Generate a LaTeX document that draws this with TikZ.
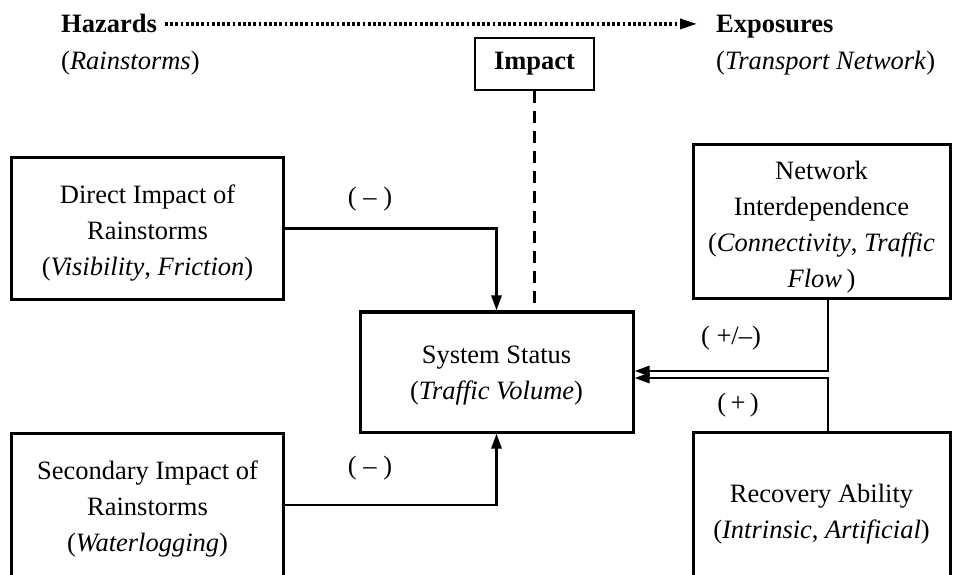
\documentclass[tikz,border=0pt]{standalone}
\usepackage{fontspec}
\setmainfont{Liberation Serif}
\usetikzlibrary{arrows.meta}
\begin{document}
\begin{tikzpicture}[x=1bp,y=-1bp,
  every node/.style={font=\fontsize{26.5bp}{36bp}\selectfont},
  box/.style={draw, line width=3bp, inner sep=0pt},
  txt/.style={align=center, inner sep=0pt},
  lbl/.style={inner sep=0pt},
  head/.style={anchor=base west, inner sep=0pt},
  conn/.style={line width=2.8bp, -{Triangle[length=15bp,width=10bp]}},
  dotline/.style={line width=3.2bp, dash pattern=on 2.8bp off 2.4bp, -{Triangle[length=17bp,width=10bp]}},
  dashline/.style={line width=3bp, dash pattern=on 12bp off 8bp}]
\useasboundingbox (0,0) rectangle (953,575);
\fill[white] (0,0) rectangle (953,575);
\clip (0,0) rectangle (953,575);

% headings
\node[head] (haz) at (61,33) {\textbf{Hazards}};
\node[head] (rain) at (61,70) {(\textit{Rainstorms})};
\node[head] (expo) at (716,33) {\textbf{Exposures}};
\node[head] (trans) at (716,70) {(\textit{Transport Network})};
\draw[dotline] ([xshift=8bp]haz.east) -- ([xshift=-19bp]haz.east -| expo.west);

% impact
\node[box, line width=2.6bp, minimum width=119bp, minimum height=52bp] (impact) at (534.5,64) {\textbf{Impact}};

% boxes
\node[box, minimum width=271bp, minimum height=141bp] (direct) at (147.5,228.5) {};
\node[txt] (directtxt) at (147.5,233) {Direct Impact of\\Rainstorms\\(\textit{Visibility}, \textit{Friction})};

\node[box, minimum width=271bp, minimum height=144bp] (second) at (147.5,505) {};
\node[txt] (secondtxt) at (147.5,509) {Secondary Impact of\\Rainstorms\\(\textit{Waterlogging})};

\node[box, minimum width=273bp, minimum height=120bp] (status) at (496.5,372) {};
\node[txt] (statustxt) at (496.5,376) {System Status\\(\textit{Traffic Volume})};

\node[box, minimum width=257bp, minimum height=153bp] (net) at (821.5,221.5) {};
\node[txt] (nettxt) at (821.5,227) {Network\\Interdependence\\(\textit{Connectivity}, \textit{Traffic}\\\textit{Flow}\,)};

\node[box, minimum width=257bp, minimum height=145bp] (rec) at (821.5,504.5) {};
\node[txt] (rectxt) at (821.5,514) {Recovery Ability\\(\textit{Intrinsic}, \textit{Artificial})};

% connectors
\draw[conn] (direct.east) -| (status.north);
\draw[conn] (second.east) -| (status.south);
\draw[conn] ([xshift=6.5bp]net.south) |- ([yshift=1bp]status.east);
\draw[conn] ([xshift=6.5bp]rec.north) |- ([yshift=-6bp]status.east);
\draw[dashline] (impact.south) -- (impact.south |- status.north);

% labels
\node[lbl] (l1) at (370,199) {( – )};
\node[lbl] (l2) at (370,468) {( – )};
\node[lbl] (l3) at (731,338) {( +/–)};
\node[lbl] (l4) at (738,405) {(\,+\,)};
\end{tikzpicture}
\end{document}
